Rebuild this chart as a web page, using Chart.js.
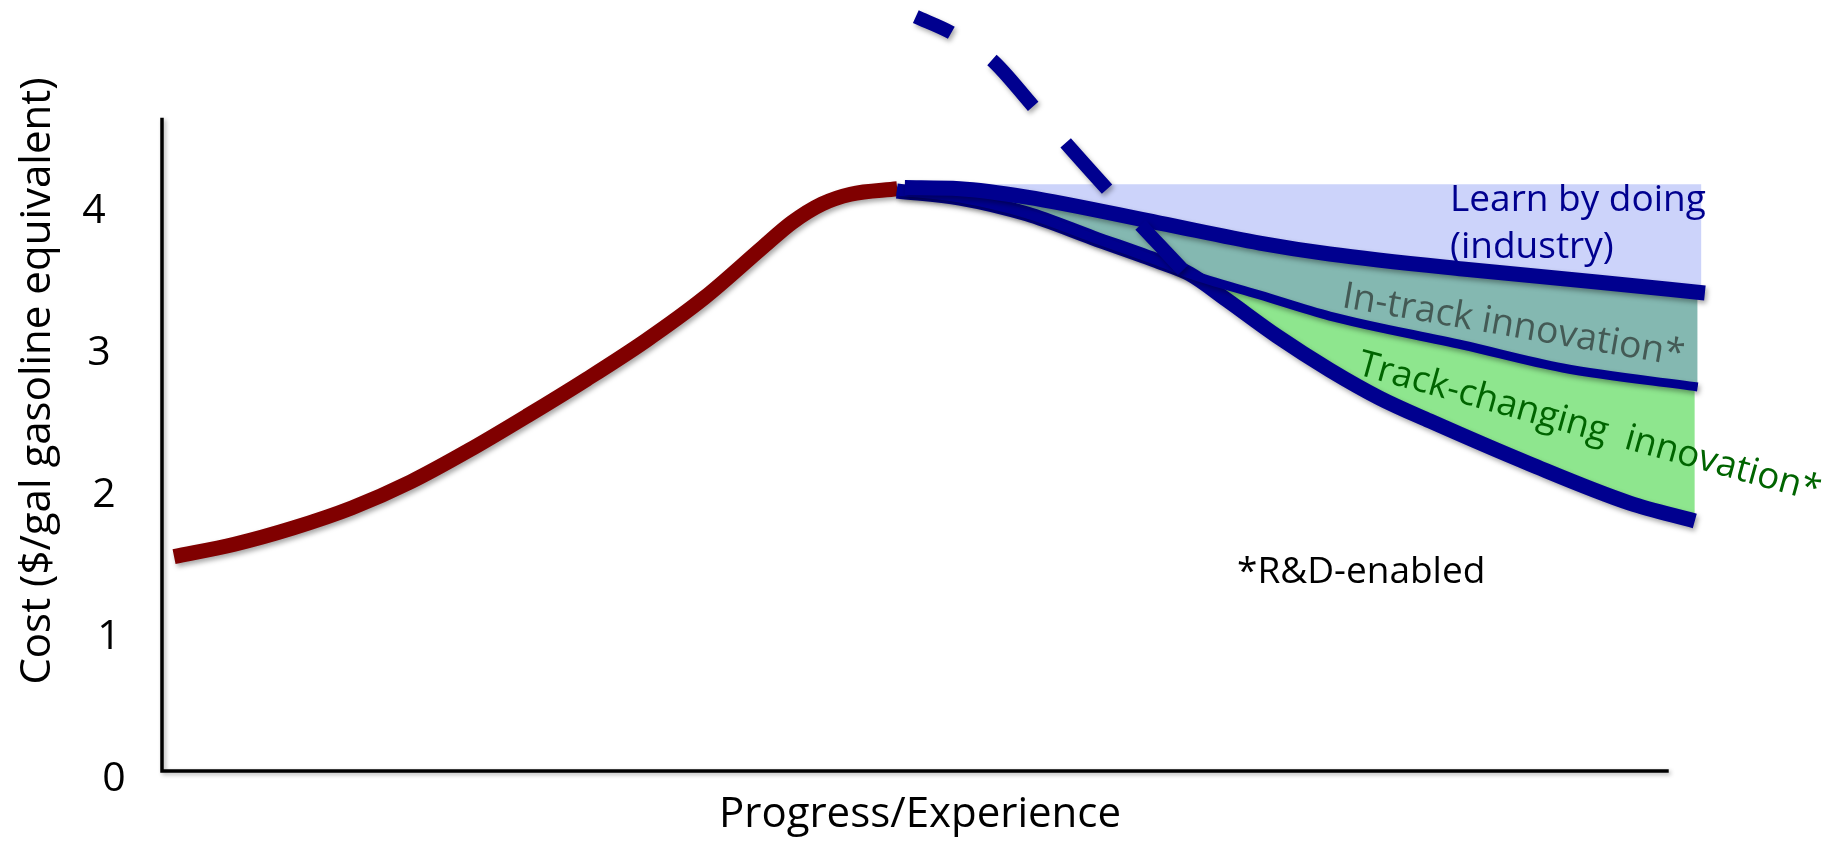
<!DOCTYPE html>
<html>
<head>
<meta charset="utf-8">
<title>Cost vs Progress/Experience</title>
<script src="https://cdn.jsdelivr.net/npm/chart.js@4.4.1/dist/chart.umd.min.js"></script>
<style>
  html, body { margin: 0; padding: 0; background: #fff; }
  #wrap { width: 1837px; height: 841px; position: relative; }
</style>
</head>
<body>
<div id="wrap"><canvas id="costChart"></canvas></div>
<script>
// --- data (x = progress, 0..100 along the axis; y = $/gal) ---
const yTicks = [0, 1, 2, 3, 4];

// rising curve up to today
const redX = [0.8, 4.81, 8.72, 12.6, 16.5, 20.4, 24.3, 28.2, 32.1, 36.0, 39.9, 41.8, 43.8, 45.7, 48.8];
const redY = [1.51, 1.597, 1.712, 1.853, 2.036, 2.26, 2.505, 2.76, 3.03, 3.333, 3.691, 3.862, 3.993, 4.062, 4.10];

// learn by doing (industry)
const upperX = [49.3, 52.95, 57.4, 66.22, 72.86, 77.5, 86.33, 95.22, 102.4];
const upperY = [4.109, 4.101, 4.042, 3.859, 3.718, 3.641, 3.535, 3.444, 3.366];

// in-track innovation
const middleX = [48.77, 52.95, 57.4, 61.78, 66.22, 68.21, 72.86, 77.5, 86.33, 92.97, 101.92];
const middleY = [4.085, 4.035, 3.923, 3.754, 3.585, 3.5, 3.352, 3.204, 3.0, 2.838, 2.704];

// track-changing innovation
const lowerX = [48.77, 52.95, 57.4, 61.78, 66.22, 68.21, 70.67, 73.99, 77.5, 80.8, 84.14, 90.78, 97.41, 101.73];
const lowerY = [4.085, 4.035, 3.923, 3.754, 3.585, 3.5, 3.317, 3.063, 2.824, 2.627, 2.465, 2.162, 1.887, 1.761];

// dashed projection
const dashX = [50.03, 52.42, 55.08, 57.86, 62.77, 67.88];
const dashY = [5.312, 5.197, 5.007, 4.676, 4.092, 3.514];

// flat ceiling of the shaded band
const ceilX = [49.3, 102.17];
const ceilY = [4.132, 4.132];

const yAxisTop = 4.6;
const xAxisEnd = 100;

const NAVY = '#00008f';
const FONT = '"Open Sans", "Noto Sans", sans-serif';

function pts(xs, ys) {
    return xs.map((x, i) => ({ x: x, y: ys[i] }));
}

// sombra suave como en el original
const shadowPlugin = {
    id: 'lineShadow',
    beforeDatasetDraw(chart, args) {
        if (!chart.data.datasets[args.index].shadow) return;
        const ctx = chart.ctx;
        ctx.save();
        ctx.shadowColor = 'rgba(0,0,0,0.35)';
        ctx.shadowBlur = 5;
        ctx.shadowOffsetX = 2;
        ctx.shadowOffsetY = 3;
    },
    afterDatasetDraw(chart, args) {
        if (chart.data.datasets[args.index].shadow) chart.ctx.restore();
    }
};

// ejes dibujados a partir de las escalas
const axesPlugin = {
    id: 'axesLines',
    beforeDatasetsDraw(chart) {
        const ctx = chart.ctx, xs = chart.scales.x, ys = chart.scales.y;
        const x0 = xs.getPixelForValue(0), y0 = ys.getPixelForValue(0);
        ctx.save();
        ctx.shadowColor = 'rgba(0,0,0,0.3)';
        ctx.shadowBlur = 4;
        ctx.shadowOffsetX = 2;
        ctx.shadowOffsetY = 2;
        ctx.strokeStyle = '#000';
        ctx.lineWidth = 3.5;
        ctx.lineJoin = 'miter';
        ctx.beginPath();
        ctx.moveTo(x0, ys.getPixelForValue(yAxisTop));
        ctx.lineTo(x0, y0);
        ctx.lineTo(xs.getPixelForValue(xAxisEnd), y0);
        ctx.stroke();
        ctx.restore();
    }
};

const notes = [
    { text: 'Learn by doing', x: 1450, y: 211, size: 37, color: NAVY, angle: 0 },
    { text: '(industry)', x: 1450, y: 258, size: 37, color: NAVY, angle: 0 },
    { text: 'In-track innovation*', x: 1341, y: 307, size: 37.2, color: '#445a55', angle: 9.85 },
    { text: 'Track-changing  innovation*', x: 1356, y: 374, size: 36.6, color: '#006400', angle: 15.5 },
    { text: '*R&D-enabled', x: 1237, y: 583, size: 37, color: '#000', angle: 0 }
];

const textPlugin = {
    id: 'texts',
    afterDraw(chart) {
        const ctx = chart.ctx, xs = chart.scales.x, ys = chart.scales.y;
        const x0 = xs.getPixelForValue(0);
        ctx.save();
        ctx.fillStyle = '#000';
        ctx.font = '41px ' + FONT;
        ctx.textAlign = 'center';
        ctx.textBaseline = 'middle';
        yTicks.forEach(v => {
            ctx.fillText(String(v), x0 - 48 - v * 5, ys.getPixelForValue(v) + 8.5);
        });

        // titulos de ejes
        ctx.font = '42px ' + FONT;
        ctx.save();
        ctx.translate(38, 381);
        ctx.rotate(-Math.PI / 2);
        ctx.fillText('Cost ($/gal gasoline equivalent)', 0, 0);
        ctx.restore();
        ctx.textBaseline = 'alphabetic';
        ctx.fillText('Progress/Experience', 920, 827);

        // anotaciones
        ctx.textAlign = 'left';
        notes.forEach(n => {
            ctx.save();
            ctx.translate(n.x, n.y);
            ctx.rotate(n.angle * Math.PI / 180);
            ctx.font = n.size + 'px ' + FONT;
            ctx.fillStyle = n.color;
            ctx.fillText(n.text, 0, 0);
            ctx.restore();
        });
        ctx.restore();
    }
};

const lineBase = {
    pointRadius: 0,
    fill: false,
    cubicInterpolationMode: 'monotone',
    borderCapStyle: 'butt',
    borderJoinStyle: 'round',
    shadow: true
};

const bandBase = {
    pointRadius: 0,
    borderWidth: 0,
    borderColor: 'rgba(0,0,0,0)',
    cubicInterpolationMode: 'monotone'
};

new Chart(document.getElementById('costChart'), {
    type: 'line',
    data: {
        datasets: [
            Object.assign({}, lineBase, { label: 'dashed', data: pts(dashX, dashY), borderColor: NAVY, borderWidth: 14, borderDash: [62, 49], borderDashOffset: 23 }),
            Object.assign({}, lineBase, { label: 'Learn by doing', data: pts(upperX, upperY), borderColor: NAVY, borderWidth: 15 }),
            Object.assign({}, lineBase, { label: 'In-track', data: pts(middleX, middleY), borderColor: NAVY, borderWidth: 9 }),
            Object.assign({}, lineBase, { label: 'Track-changing', data: pts(lowerX, lowerY), borderColor: NAVY, borderWidth: 15 }),
            Object.assign({}, lineBase, { label: 'history', data: pts(redX, redY), borderColor: '#800000', borderWidth: 15 }),
            Object.assign({}, bandBase, { label: 'band1', data: pts(ceilX, ceilY), fill: 1, backgroundColor: '#ccd3fa' }),
            Object.assign({}, bandBase, { label: 'band2', data: pts(middleX, middleY), fill: 1, backgroundColor: '#84b8b1' }),
            Object.assign({}, bandBase, { label: 'band3', data: pts(lowerX, lowerY), fill: 2, backgroundColor: '#8ee68e' })
        ]
    },
    options: {
        responsive: true,
        maintainAspectRatio: false,
        animation: false,
        events: [],
        layout: {
            padding: { left: 162, right: 108, top: 4.2, bottom: 70 }
        },
        plugins: {
            legend: { display: false },
            tooltip: { enabled: false }
        },
        scales: {
            x: { type: 'linear', min: 0, max: 104, display: false },
            y: { type: 'linear', min: 0, max: 5.4, display: false }
        }
    },
    plugins: [shadowPlugin, axesPlugin, textPlugin]
});
</script>
</body>
</html>
